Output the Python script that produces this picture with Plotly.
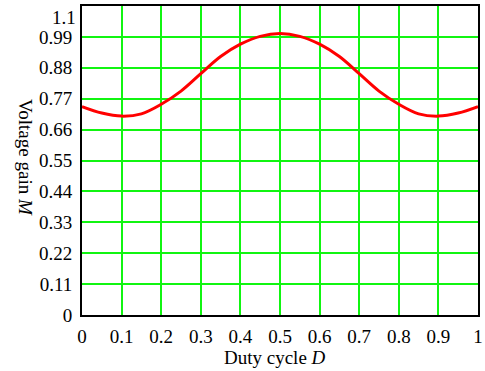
import plotly.graph_objects as go

duty = [0.0, 0.05, 0.1, 0.15, 0.2, 0.25, 0.3, 0.35, 0.4, 0.45, 0.5,
        0.55, 0.6, 0.65, 0.7, 0.75, 0.8, 0.85, 0.9, 0.95, 1.0]
gain = [0.742, 0.719, 0.708, 0.716, 0.750, 0.797, 0.859, 0.920, 0.964, 0.992, 1.002,
        0.992, 0.964, 0.920, 0.859, 0.797, 0.750, 0.716, 0.708, 0.719, 0.742]

x_ticks = [0, 0.1, 0.2, 0.3, 0.4, 0.5, 0.6, 0.7, 0.8, 0.9, 1.0]
x_labels = ["0", "0.1", "0.2", "0.3", "0.4", "0.5", "0.6", "0.7", "0.8", "0.9", "1"]
y_ticks = [0, 0.11, 0.22, 0.33, 0.44, 0.55, 0.66, 0.77, 0.88, 0.99, 1.1]
y_labels = ["0", "0.11", "0.22", "0.33", "0.44", "0.55", "0.66", "0.77", "0.88", "0.99", "1.1"]
x_title = "Duty cycle <i>D</i>"
y_title = "Voltage gain <i>M</i>"

FONT = "Liberation Serif, Times New Roman, serif"
GRID = "#11f511"
W, H = 485, 371
L, R, T, B = 82, 7, 6, 56

fig = go.Figure()
fig.add_trace(go.Scatter(
    x=duty, y=gain, mode="lines",
    line=dict(color="#ff0000", width=3, shape="spline", smoothing=1.0),
    showlegend=False, hoverinfo="skip",
))

fig.update_layout(
    width=W, height=H,
    margin=dict(l=L, r=R, t=T, b=B),
    paper_bgcolor="white", plot_bgcolor="white",
    font=dict(family=FONT, size=19, color="black"),
    xaxis=dict(
        range=[0, 1], tickvals=x_ticks, ticktext=x_labels,
        showgrid=True, gridcolor=GRID, gridwidth=1.5,
        showline=True, linecolor="black", linewidth=2, mirror=True,
        ticks="", ticklabelstandoff=3, zeroline=False, automargin=False,
    ),
    yaxis=dict(
        range=[0, 1.1], tickvals=y_ticks[:-1], ticktext=y_labels[:-1],
        showgrid=True, gridcolor=GRID, gridwidth=1.5,
        showline=True, linecolor="black", linewidth=2, mirror=True,
        ticks="", ticklabelstandoff=4, zeroline=False, automargin=False,
    ),
)

# top y label (shifted down in the reference so it is not clipped)
fig.add_annotation(
    x=0, xref="paper", xanchor="right", xshift=-4,
    y=y_ticks[-1], yref="y", yanchor="top", yshift=1,
    text=y_labels[-1], showarrow=False, font=dict(family=FONT, size=19),
)

# axis titles placed as in the reference
pw = W - L - R
ph = H - T - B
fig.add_annotation(
    x=(275 - L) / pw, xref="paper", y=-(357 - (H - B)) / ph, yref="paper",
    xanchor="center", yanchor="middle", text=x_title, showarrow=False,
    font=dict(family=FONT, size=19),
)
fig.add_annotation(
    x=-(L - 25) / pw, xref="paper", y=1 - (158 - T) / ph, yref="paper",
    xanchor="center", yanchor="middle", text=y_title, showarrow=False,
    textangle=90, font=dict(family=FONT, size=19),
)

fig.write_html(
    "out.html",
    config={"displayModeBar": False},
    post_script="document.body.style.margin='0';document.body.style.overflow='hidden';",
)
